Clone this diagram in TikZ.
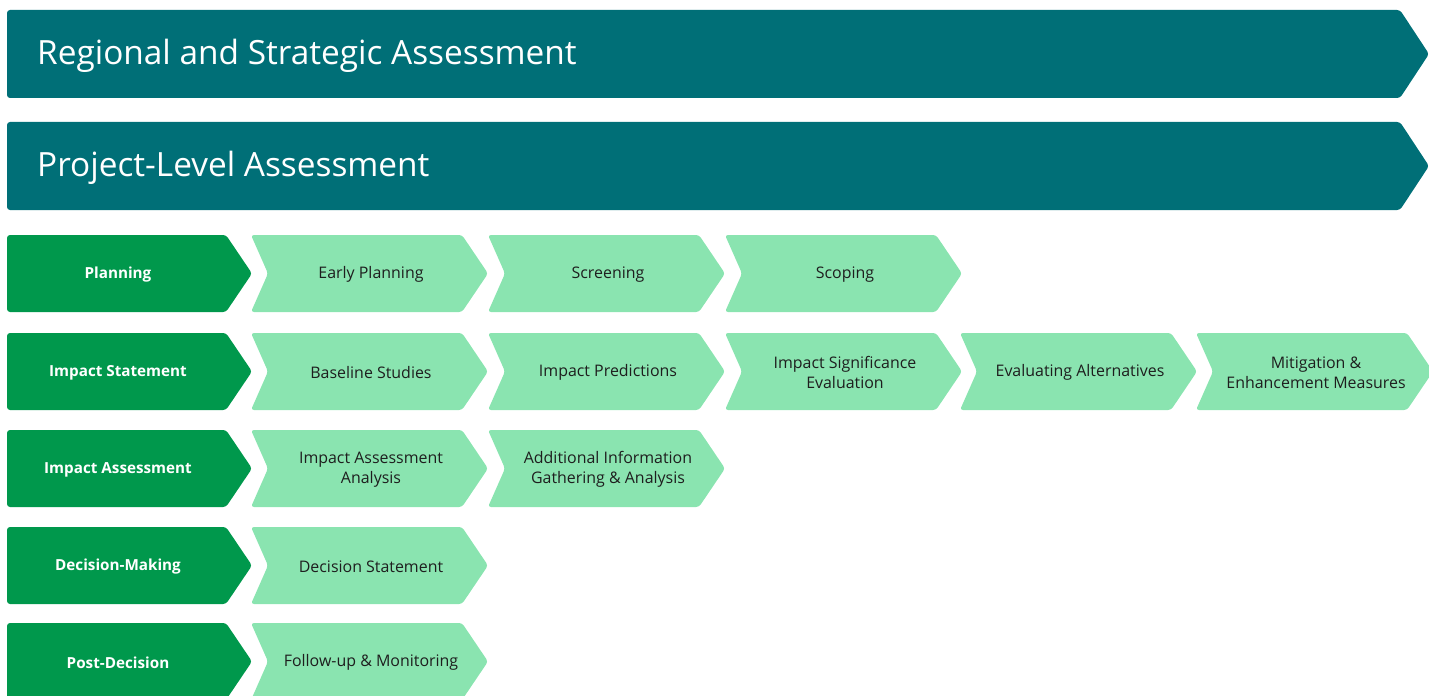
\documentclass[tikz,border=0pt]{standalone}
\usepackage{fontspec}
\setmainfont{Open Sans}
\definecolor{teal}{HTML}{006F77}
\definecolor{dgreen}{HTML}{00984C}
\definecolor{lgreen}{HTML}{8AE4B0}
\definecolor{ink}{HTML}{1E1E1E}
\tikzset{
  banner/.style={fill=teal, rounded corners=3pt},
  bannertext/.style={anchor=west, text=white, font=\fontsize{33.5}{40}\selectfont, inner sep=0pt},
  phasebox/.style={fill=dgreen, rounded corners=3pt},
  phasetext/.style={text=white, font=\bfseries\fontsize{15.3}{18}\selectfont, align=center},
  stepshape/.style={fill=lgreen, rounded corners=3pt},
  steptext/.style={text=ink, font=\fontsize{16}{20}\selectfont, align=center},
}
\newcommand{\chevstep}[4]{%
  \fill[stepshape] (#1,#2) -- (#1+211,#2) -- (#1+237,#2+38.5) -- (#1+211,#2+77) -- (#1,#2+77) -- (#1+17,#2+38.5) -- cycle;
  \node[steptext] (#3) at (#1+120,#2+39.5) {#4};}
\newcommand{\phase}[3]{%
  \fill[phasebox] (7,#1) -- (226,#1) -- (252,#1+38.5) -- (226,#1+77) -- (7,#1+77) -- cycle;
  \node[phasetext] (#2) at (118,#1+39.5) {#3};}
\begin{document}
\begin{tikzpicture}[x=1bp,y=-1bp]
\useasboundingbox (0,0) rectangle (1429,696);
\clip (0,0) rectangle (1429,696);
% banners
\fill[banner] (7,10) -- (1400,10) -- (1429,54) -- (1400,98) -- (7,98) -- cycle;
\node[bannertext] (rsa) at (37,56) {Regional and Strategic Assessment};
\fill[banner] (7,122) -- (1400,122) -- (1429,166) -- (1400,210) -- (7,210) -- cycle;
\node[bannertext] (pla) at (37,168) {Project-Level Assessment};
% row 1
\phase{235}{planning}{Planning}
\chevstep{251}{235}{early}{Early Planning}
\chevstep{488}{235}{screen}{Screening}
\chevstep{725}{235}{scope}{Scoping}
% row 2
\phase{333}{impstat}{Impact Statement}
\chevstep{251}{333}{baseline}{Baseline Studies}
\chevstep{488}{333}{predict}{Impact Predictions}
\chevstep{725}{333}{signif}{Impact Significance\\Evaluation}
\chevstep{960}{333}{altern}{Evaluating Alternatives}
\chevstep{1196}{333}{mitig}{Mitigation \&\\Enhancement Measures}
% row 3
\phase{430}{impass}{Impact Assessment}
\chevstep{251}{430}{iaa}{Impact Assessment\\Analysis}
\chevstep{488}{430}{addinfo}{Additional Information\\Gathering \& Analysis}
% row 4
\phase{527}{decision}{Decision-Making}
\chevstep{251}{527}{decstat}{Decision Statement}
% row 5
\phase{623}{post}{Post-Decision}
\chevstep{251}{623}{follow}{Follow-up \& Monitoring}
\end{tikzpicture}
\end{document}
